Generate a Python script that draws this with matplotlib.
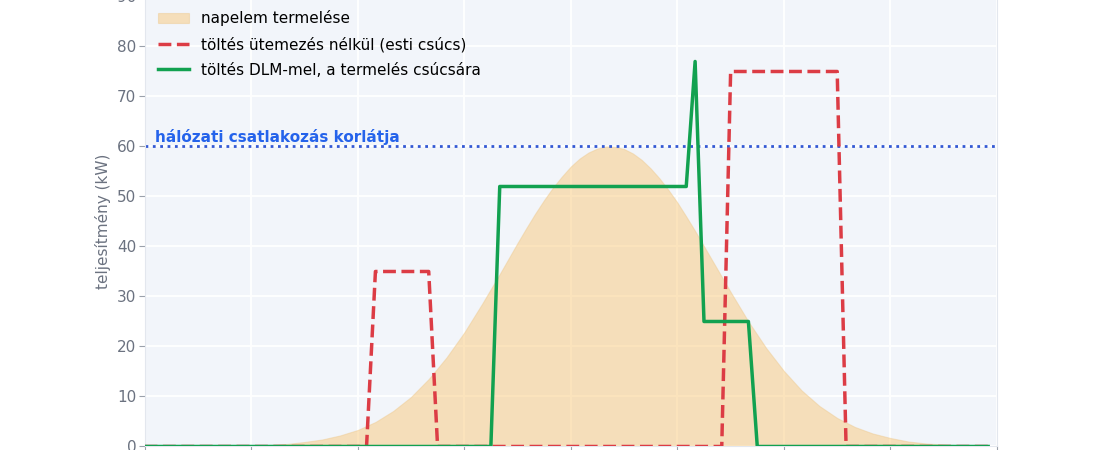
import numpy as np
import matplotlib
matplotlib.use("Agg")
import matplotlib.pyplot as plt

# napelem termelése (óra, kW) - félóránként, a csúcs körül negyedóránként
solar_t = [0, 0.5, 1, 1.5, 2, 2.5, 3, 3.5, 4, 4.5, 5, 5.5, 6, 6.5, 7, 7.5,
           8, 8.5, 9, 9.5, 10, 10.5, 10.75, 11, 11.25, 11.5, 11.75, 12, 12.25,
           12.5, 12.75, 13, 13.25, 13.5, 13.75, 14, 14.25, 14.5, 14.75, 15,
           15.25, 15.5, 16, 16.5, 17, 17.5, 18, 18.5, 19, 19.5, 20, 20.5,
           21, 21.5, 22, 22.5, 23, 23.5]
solar_kw = [0.0, 0.0, 0.0, 0.0, 0.0, 0.1, 0.2, 0.3, 0.5, 0.9, 1.4, 2.2,
            3.3, 4.9, 7.1, 9.9, 13.5, 17.8, 22.8, 28.5, 34.5, 40.7, 43.7,
            46.6, 49.3, 51.8, 54.0, 56.0, 57.6, 58.8, 59.6, 60.0, 59.9, 59.5,
            58.6, 57.3, 55.6, 53.6, 51.3, 48.8, 46.0, 43.1, 37.0, 30.9, 25.0,
            19.7, 15.1, 11.2, 8.1, 5.7, 3.9, 2.6, 1.7, 1.0, 0.6, 0.4, 0.2, 0.1]

# töltés ütemezés nélkül (töréspontok)
red_t = [0, 6.25, 6.5, 8.0, 8.25, 16.25, 16.5, 19.5, 19.75, 23.75]
red_kw = [0, 0, 35, 35, 0, 0, 75, 75, 0, 0]

# töltés DLM-mel (töréspontok)
green_t = [0, 9.75, 10.0, 15.25, 15.5, 15.75, 17.0, 17.25, 23.75]
green_kw = [0, 0, 52, 52, 77, 25, 25, 0, 0]

grid_limit = 60
hour_ticks = [0, 3, 6, 9, 12, 15, 18, 21, 24]

fig = plt.figure(figsize=(11, 4.5), dpi=100)
ax = fig.add_axes([0.1314, 0.0078, 0.775, 1.0])
ax.set_facecolor("#f2f5fa")

ax.fill_between(solar_t, solar_kw, 0, facecolor="#f9c46c", alpha=0.45,
                edgecolor="#eec98f", lw=0.8, label="napelem termelése", zorder=1)
ax.plot(red_t, red_kw, color="#dc3c45", ls="--", lw=2.5,
        label="töltés ütemezés nélkül (esti csúcs)", zorder=3)
ax.plot(green_t, green_kw, color="#12a150", lw=2.5,
        label="töltés DLM-mel, a termelés csúcsára", zorder=4)

ax.axhline(grid_limit, color="#3358d4", ls=":", lw=2, zorder=2)
ax.text(0.3, 61.8, "hálózati csatlakozás korlátja", color="#2563eb",
        fontsize=11, fontweight="bold", va="center", ha="left")

ax.set_xlim(0, 24)
ax.set_ylim(0, 90)
# az x tengely feliratai a képen kívül esnek
ax.set_xticks(hour_ticks)
ax.set_xticklabels([])
ax.set_yticks(range(0, 91, 10))
ax.grid(True, color="white", lw=1.3, zorder=0)
ax.set_axisbelow(True)
for s in ax.spines.values():
    s.set_color("#e3e7ee")
ax.tick_params(colors="#9aa1ab", labelcolor="#6b7280", labelsize=11, length=4, pad=2)
ax.set_ylabel("teljesítmény (kW)", fontsize=11, color="#6b7280", labelpad=4.5)

ax.legend(loc="upper left", bbox_to_anchor=(0.0, 1.0), frameon=False,
          fontsize=11, labelspacing=0.68)

fig.savefig("out.png", dpi=100)
